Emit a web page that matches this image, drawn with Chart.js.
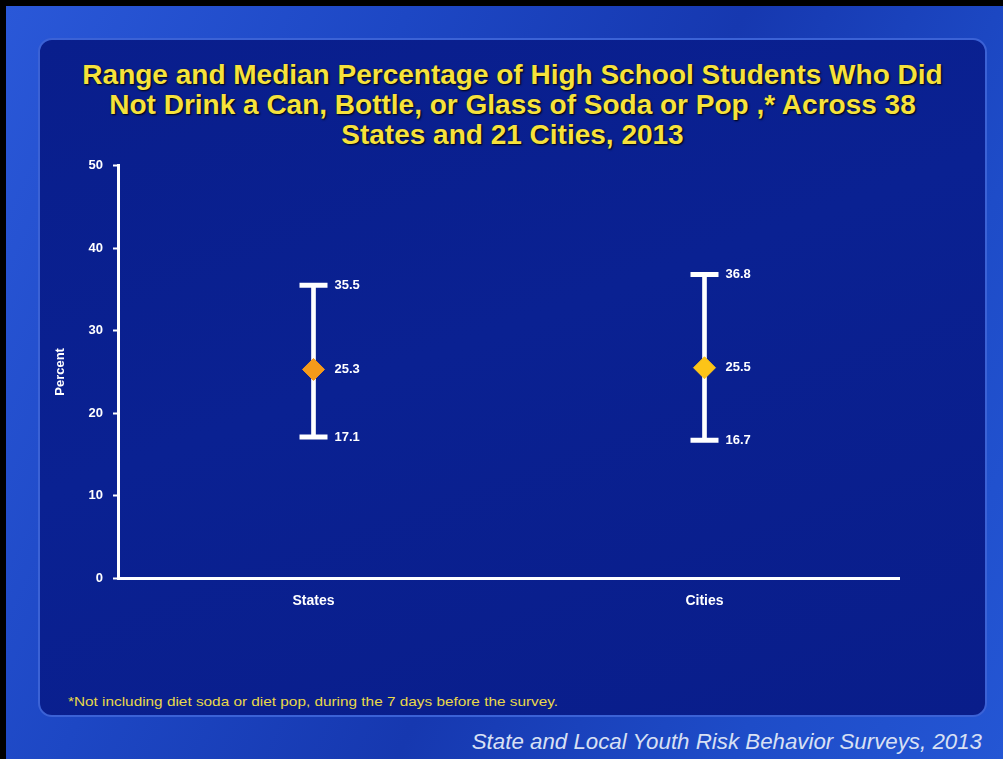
<!DOCTYPE html>
<html>
<head>
<meta charset="utf-8">
<script src="https://cdn.jsdelivr.net/npm/chart.js@4/dist/chart.umd.min.js"></script>
<style>
  html, body { margin: 0; padding: 0; background: #000; }
  #slide {
    position: absolute; left: 6px; top: 6px; width: 997px; height: 753px; overflow: hidden;
    background: linear-gradient(115deg, #2a58d8 0%, #1d47c4 30%, #1638b0 55%, #1e4cc8 80%, #2456d4 100%);
    font-family: "Liberation Sans", Arial, sans-serif;
  }
  #panel {
    position: absolute; left: 32px; top: 32px; width: 949px; height: 679px;
    border-radius: 14px; border: 2px solid #3b62d6;
    background: linear-gradient(160deg, #091e8c 0%, #0a2192 45%, #091d8a 100%);
    box-sizing: border-box;
  }
  #title {
    position: absolute; left: 5px; top: 54px; width: 1003px; text-align: center;
    color: #f6e23c; font-weight: bold; font-size: 28px; line-height: 30px;
    text-shadow: 1px 1px 2px #000;
  }
  #note {
    position: absolute; left: 62px; top: 688px; color: #e8d84a; font-size: 13px;
    transform: scaleX(1.18); transform-origin: left center; white-space: nowrap;
  }
  #source {
    position: absolute; right: 21px; top: 723px; color: #d8e0f4; font-size: 22.3px; font-style: italic;
  }
  #wrap { position: absolute; left: 34px; top: 142px; width: 860px; height: 467px; }
</style>
</head>
<body>
<div id="slide">
  <div id="panel"></div>
  <div id="title">Range and Median Percentage of High School Students Who Did<br>Not Drink a Can, Bottle, or Glass of Soda or Pop ,* Across 38<br>States and 21 Cities, 2013</div>
  <div id="wrap"><canvas id="chart" width="860" height="467"></canvas></div>
  <div id="note">*Not including diet soda or diet pop, during the 7 days before the survey.</div>
  <div id="source">State and Local Youth Risk Behavior Surveys, 2013</div>
</div>
<script>
const categories = ['States', 'Cities'];
const lows = [17.1, 16.7];
const medians = [25.3, 25.5];
const highs = [35.5, 36.8];
const medianColors = ['#f59a1a', '#fcc418'];

// value labels to the right of each mark
const valueLabels = {
    id: 'valueLabels',
    afterDatasetsDraw(chart) {
        const ctx = chart.ctx;
        const xs = chart.scales.x, ys = chart.scales.y;
        ctx.save();
        ctx.fillStyle = '#ffffff';
        ctx.font = 'bold 13px "Liberation Sans", Arial, sans-serif';
        ctx.textBaseline = 'middle';
        categories.forEach((c, i) => {
            const x = xs.getPixelForValue(i) + 21;
            [highs[i], medians[i], lows[i]].forEach(v => {
                ctx.fillText(v.toFixed(1), x, ys.getPixelForValue(v));
            });
        });
        ctx.restore();
    }
};

new Chart(document.getElementById('chart'), {
    type: 'bar',
    data: {
        labels: categories,
        datasets: [
            {
                type: 'bar',
                data: lows.map((l, i) => [l, highs[i]]),
                backgroundColor: '#ffffff',
                barThickness: 4,
                order: 3
            },
            {
                type: 'line',
                data: lows,
                showLine: false,
                pointStyle: 'line',
                pointRadius: 14,
                pointBorderWidth: 5,
                pointBorderColor: '#ffffff',
                order: 2
            },
            {
                type: 'line',
                data: highs,
                showLine: false,
                pointStyle: 'line',
                pointRadius: 14,
                pointBorderWidth: 5,
                pointBorderColor: '#ffffff',
                order: 2
            },
            {
                type: 'line',
                data: medians,
                showLine: false,
                pointStyle: 'rectRot',
                pointRadius: 11,
                pointBorderWidth: 1,
                pointBackgroundColor: medianColors,
                pointBorderColor: medianColors,
                order: 1
            }
        ]
    },
    options: {
        responsive: false,
        animation: false,
        layout: { autoPadding: false, padding: { top: 3, right: 0, left: 0, bottom: 0 } },
        plugins: { legend: { display: false }, tooltip: { enabled: false } },
        scales: {
            x: {
                offset: true,
                grid: { display: false, drawTicks: false },
                border: { display: true, color: '#ffffff', width: 3 },
                ticks: { color: '#ffffff', font: { family: '"Liberation Sans", Arial', size: 14, weight: 'bold' }, padding: 15 },
                afterFit(scale) { scale.height = 37; }
            },
            y: {
                min: 0, max: 50,
                ticks: { stepSize: 10, color: '#ffffff', font: { family: '"Liberation Sans", Arial', size: 13, weight: 'bold' }, padding: 10 },
                grid: { drawOnChartArea: false, color: '#ffffff', tickLength: 5, tickWidth: 2 },
                border: { display: true, color: '#ffffff', width: 3 },
                title: { display: true, text: 'Percent', color: '#ffffff', font: { family: '"Liberation Sans", Arial', size: 13, weight: 'bold' }, padding: { top: 13, bottom: 0 } },
                afterFit(scale) { scale.width = 78; }
            }
        }
    },
    plugins: [valueLabels]
});
</script>
</body>
</html>
